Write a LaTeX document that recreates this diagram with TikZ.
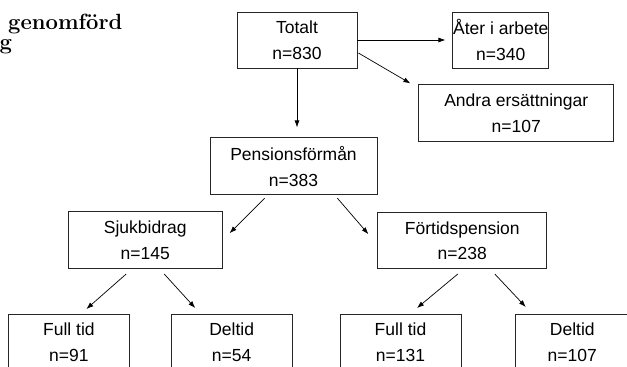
\documentclass[tikz,border=0pt]{standalone}
\usepackage{fontspec}
\setsansfont{Liberation Sans}
\usepackage{tikz}
\usetikzlibrary{arrows.meta,positioning,calc}
\tikzset{
  grp/.style ={rectangle, draw=black!85, line width=0.8pt, fill=white,
               minimum height=56pt, inner sep=0pt, align=center,
               font=\fontsize{17.5}{25.5}\selectfont\sffamily},
  ar/.style  ={-{Latex[length=7pt,width=5pt]}, line width=0.7pt, draw=black},
  head/.style={inner sep=0pt, font=\fontsize{22}{24}\selectfont\bfseries}
}
\begin{document}
\begin{tikzpicture}
\useasboundingbox (0,0) rectangle (627pt,-367pt);
% cut-off heading at the left edge
\node[head, anchor=base west] (hd1) at (8pt,-29pt) {genomförd};
\node[head, anchor=base west] (hd2) at (-0.5pt,-49pt) {g};
% top level
\node[grp, minimum width=120pt] (tot) at (297pt,-40pt) {Totalt\\n=830};
\node[grp, right=95pt of tot, minimum width=96pt] (ater) {Åter i arbete\\n=340};
\node[grp, below right=16pt and 61pt of tot.south east, minimum width=195pt,
      minimum height=57pt] (andra) {Andra ersättningar\\n=107};
\node[grp, below=69pt of tot, xshift=-3.5pt, minimum width=167pt,
      minimum height=57pt] (pens) {Pensionsförmån\\n=383};
% second level
\node[grp, below left=16pt and -13pt of pens.south west, minimum width=154pt,
      minimum height=57pt] (sjuk) {Sjukbidrag\\n=145};
\node[grp, below right=17pt and 0pt of pens.south east,
      minimum width=169pt] (fort) {Förtidspension\\n=238};
% bottom row (cut by the page edge)
\node[grp, anchor=north west, minimum width=121pt] (ft1) at (8pt,-314pt) {Full tid\\n=91};
\node[grp, right=41pt of ft1, minimum width=121pt] (dt1) {Deltid\\n=54};
\node[grp, right=47pt of dt1, minimum width=121pt] (ft2) {Full tid\\n=131};
\node[grp, right=54pt of ft2, minimum width=113pt] (dt2) {Deltid\\n=107};
% connectors
\draw[ar, shorten >=7pt] (tot.east) -- (ater.west);
\draw[ar] ($(tot.east)+(1pt,-13pt)$) -- ($(andra.north west)+(-8pt,1pt)$);
\draw[ar, shorten >=10pt] (tot.south) -- (tot.south |- pens.north);
\draw[ar] ($(pens.south west)+(55pt,-3pt)$) -- ($(sjuk.north east)+(7pt,-22pt)$);
\draw[ar] ($(pens.south east)+(-40pt,-3pt)$) -- ($(fort.north west)+(-9pt,-22pt)$);
\draw[ar] ($(sjuk.south)+(-19pt,-5pt)$) -- ($(ft1.north)+(17.5pt,5pt)$);
\draw[ar] ($(sjuk.south)+(19pt,-5pt)$) -- ($(dt1.north)+(-36.5pt,6pt)$);
\draw[ar] ($(fort.south)+(-4.5pt,-5pt)$) -- ($(ft2.north)+(16.5pt,6pt)$);
\draw[ar] ($(fort.south)+(32.5pt,-5pt)$) -- ($(dt2.north)+(-46.5pt,7pt)$);
\end{tikzpicture}
\end{document}
